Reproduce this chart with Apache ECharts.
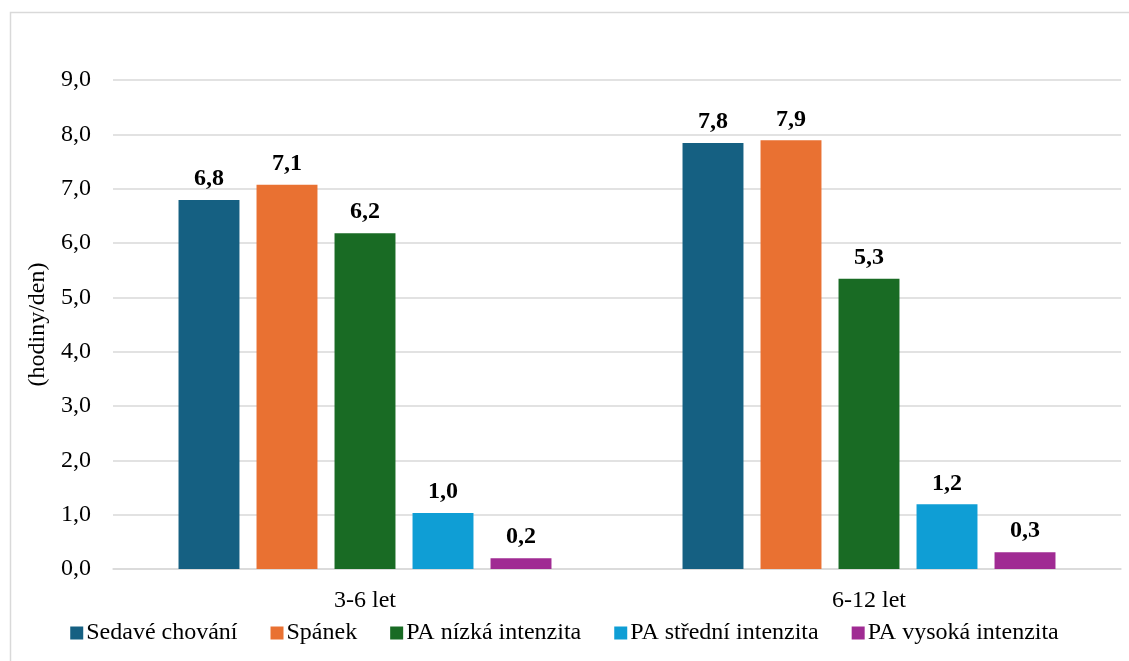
<!DOCTYPE html>
<html>
<head>
<meta charset="utf-8">
<script src="https://cdn.jsdelivr.net/npm/echarts@6/dist/echarts.min.js"></script>
<style>html,body{margin:0;padding:0;background:#fff}#c{width:1129px;height:661px}</style>
</head>
<body>
<div id="c"></div>
<script>
const categories = ['3-6 let', '6-12 let'];
const seriesNames = ['Sedavé chování', 'Spánek', 'PA nízká intenzita', 'PA střední intenzita', 'PA vysoká intenzita'];
const sedave = [6.79, 7.84];
const spanek = [7.07, 7.89];
const paNizka = [6.18, 5.34];
const paStredni = [1.03, 1.19];
const paVysoka = [0.2, 0.31];
const yTicks = [0, 1, 2, 3, 4, 5, 6, 7, 8, 9];
const colors = ['#156082', '#E97132', '#196B24', '#0F9ED5', '#A02B93'];

const values = [sedave, spanek, paNizka, paStredni, paVysoka];
const FONT = '"Liberation Serif", "Times New Roman", serif';
const fmt = v => v.toFixed(1).replace('.', ',');

const chart = echarts.init(document.getElementById('c'), null, {renderer: 'canvas'});
chart.setOption({
  animation: false,
  textStyle: {fontFamily: FONT},
  graphic: [{
    type: 'rect', left: 8, top: 10, silent: true,
    shape: {width: 1200, height: 700},
    style: {fill: 'none', stroke: '#d9d9d9', lineWidth: 1.5}
  }],
  grid: {left: 113, right: 8, top: 80, bottom: 92, containLabel: false},
  legend: {
    bottom: 11, left: 'center',
    icon: 'rect', itemWidth: 13, itemHeight: 13, itemGap: 33,
    textStyle: {fontFamily: FONT, fontSize: 24, color: '#000', padding: [0, 0, 0, -2]},
    data: seriesNames
  },
  xAxis: {
    type: 'category', data: categories,
    axisLine: {show: true, lineStyle: {color: '#d9d9d9', width: 1.5}},
    axisTick: {show: false},
    axisLabel: {fontFamily: FONT, fontSize: 24, color: '#000', margin: 20}
  },
  yAxis: {
    type: 'value', min: yTicks[0], max: yTicks[yTicks.length - 1], interval: 1,
    name: '(hodiny/den)', nameLocation: 'middle', nameGap: 63, nameRotate: 90,
    nameTextStyle: {fontFamily: FONT, fontSize: 24, color: '#000'},
    axisLine: {show: false}, axisTick: {show: false},
    axisLabel: {fontFamily: FONT, fontSize: 24, color: '#000', margin: 22, formatter: v => fmt(v)},
    splitLine: {lineStyle: {color: '#d9d9d9', width: 1.5}}
  },
  series: seriesNames.map((n, i) => ({
    name: n, type: 'bar', data: values[i],
    barGap: '28%', barCategoryGap: '26%',
    itemStyle: {color: colors[i]},
    label: {
      show: true, position: 'top', distance: 9,
      fontFamily: FONT, fontSize: 24, fontWeight: 'bold', color: '#000',
      formatter: p => fmt(p.value)
    }
  }))
});
</script>
</body>
</html>
